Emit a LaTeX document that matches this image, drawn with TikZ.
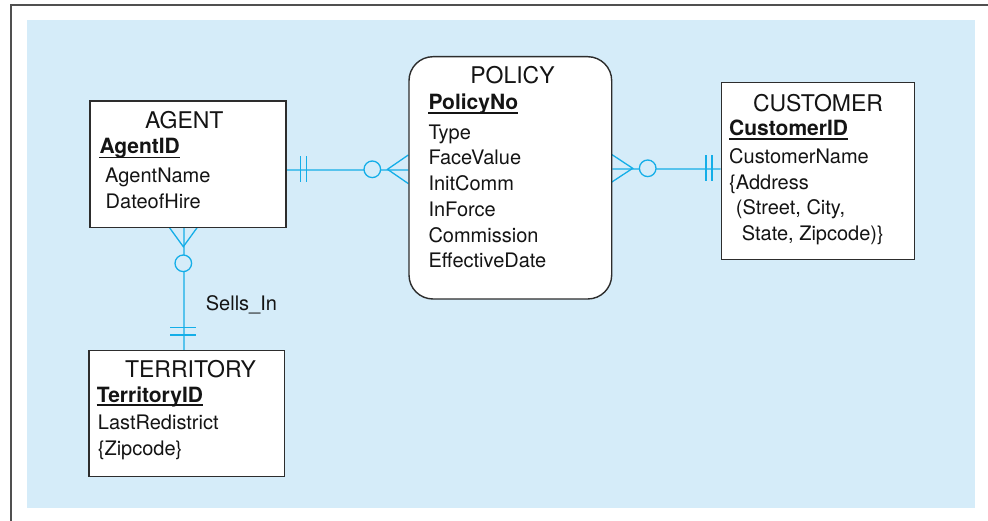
\documentclass[tikz,border=0pt]{standalone}
\usepackage{fontspec}
\setmainfont{TeX Gyre Heros}
\definecolor{bgblue}{RGB}{213,236,249}
\definecolor{cyanline}{RGB}{20,174,232}
\definecolor{framegray}{RGB}{80,80,80}
\definecolor{boxgray}{RGB}{45,45,45}
\definecolor{txt}{RGB}{20,20,20}
\begin{document}
\begin{tikzpicture}[x=1pt,y=-1pt,
  entbox/.style={draw=boxgray, line width=1.4pt, fill=white, inner sep=0pt, anchor=north west},
  conn/.style={draw=cyanline, line width=1.3pt},
  ttl/.style={anchor=base, inner sep=0pt, text=txt, font=\fontsize{23}{23}\selectfont},
  att/.style={anchor=base west, inner sep=0pt, text=txt, font=\fontsize{20}{20}\selectfont},
  keyatt/.style={anchor=base west, inner sep=0pt, text=txt, font=\fontsize{21}{21}\selectfont\bfseries},
  uline/.style={draw=txt, line width=1.5pt}
]
\useasboundingbox (0,0) rectangle (988,521);
\fill[bgblue] (27,20) rectangle (975,507.7);
\draw[framegray, line width=2pt] (11,521) -- (11,5) -- (988,5);

% boxes (shapes only, drawn first for anchors)
\path (89.3,100.3) node[entbox, minimum width=196pt, minimum height=126.4pt, draw=none, fill=none] (agent) {};
\path (408.3,56) node[entbox, minimum width=202.7pt, minimum height=242.3pt, draw=none, fill=none] (policy) {};
\path (720.7,82) node[entbox, minimum width=193.3pt, minimum height=177pt, draw=none, fill=none] (customer) {};
\path (88.3,350) node[entbox, minimum width=195.7pt, minimum height=126pt, draw=none, fill=none] (territory) {};

% connectors
\draw[conn] ([yshift=-5.8pt]agent.east) -- ([yshift=7.85pt]policy.west);
\draw[conn] ([yshift=8.85pt]policy.east) -- ([yshift=2.2pt]customer.west);
\draw[conn] ([xshift=-4pt]agent.south) -- ([xshift=-2.9pt]territory.north);

% AGENT - POLICY markers
\draw[conn] (300.7,156.3) -- (300.7,182.3);
\draw[conn] (306.7,156.3) -- (306.7,182.3);
\draw[conn, fill=bgblue] (372.3,169.3) circle[radius=8.3pt];
\draw[conn] (408.3,155) -- (387.5,169.3) -- (408.3,183.6);

% POLICY - CUSTOMER markers
\draw[conn] (611,154) -- (632.7,168.3) -- (611,182.6);
\draw[conn, fill=bgblue] (647.7,168.3) circle[radius=8.3pt];
\draw[conn] (706,155.3) -- (706,181.3);
\draw[conn] (712,155.3) -- (712,181.3);

% AGENT - TERRITORY markers
\draw[conn] (168.8,226.7) -- (183.3,246.7) -- (197.8,226.7);
\draw[conn, fill=bgblue] (183.3,263.3) circle[radius=8.3pt];
\draw[conn] (170.3,327.7) -- (196.3,327.7);
\draw[conn] (170.3,335) -- (196.3,335);

% visible boxes
\path (89.3,100.3) node[entbox, minimum width=196pt, minimum height=126.4pt] (agentbox) {};
\path (408.3,56) node[entbox, rounded corners=24pt, minimum width=202.7pt, minimum height=242.3pt] (policybox) {};
\path (720.7,82) node[entbox, minimum width=193.3pt, minimum height=177pt] (customerbox) {};
\path (88.3,350) node[entbox, minimum width=195.7pt, minimum height=126pt] (territorybox) {};

% AGENT texts
\node[ttl] (agentT) at (184.3,128.3) {AGENT};
\node[keyatt] (agentK) at (99.3,154) {AgentID};
\draw[uline] ([yshift=-3.5pt]agentK.base west) -- ([yshift=-3.5pt]agentK.base east);
\node[att] (agentA1) at (105,183) {AgentName};
\node[att] (agentA2) at (105.5,209) {DateofHire};

% POLICY texts
\node[ttl] (policyT) at (512.5,84) {POLICY};
\node[keyatt] (policyK) at (428.3,110) {PolicyNo};
\draw[uline] ([yshift=-3pt]policyK.base west) -- ([yshift=-3pt]policyK.base east);
\node[att] (policyA1) at (428.3,139.4) {Type};
\node[att] (policyA2) at (428.3,165) {FaceValue};
\node[att] (policyA3) at (428.3,190.8) {InitComm};
\node[att] (policyA4) at (428.3,216.5) {InForce};
\node[att] (policyA5) at (428.3,242.2) {Commission};
\node[att] (policyA6) at (428.3,268) {EffectiveDate};

% CUSTOMER texts
\node[ttl] (customerT) at (818,111.7) {CUSTOMER};
\node[keyatt] (customerK) at (729,135.7) {CustomerID};
\draw[uline] ([yshift=-3.3pt]customerK.base west) -- ([yshift=-3.3pt]customerK.base east);
\node[att] (customerA1) at (729,163.3) {CustomerName};
\node[att] (customerA2) at (729,189.3) {\{Address};
\node[att] (customerA3) at (735.7,215) {(Street, City,};
\node[att] (customerA4) at (741.7,241) {State, Zipcode)\}};

% TERRITORY texts
\node[ttl] (territoryT) at (190.5,377.7) {TERRITORY};
\node[keyatt] (territoryK) at (96.7,402.3) {TerritoryID};
\draw[uline] ([yshift=-2.8pt]territoryK.base west) -- ([yshift=-2.8pt]territoryK.base east);
\node[att] (territoryA1) at (97.7,429.3) {LastRedistrict};
\node[att] (territoryA2) at (97.7,455) {\{Zipcode\}};

% relationship label
\node[att] (sellsin) at (205.7,311) {Sells\_In};
\end{tikzpicture}
\end{document}
